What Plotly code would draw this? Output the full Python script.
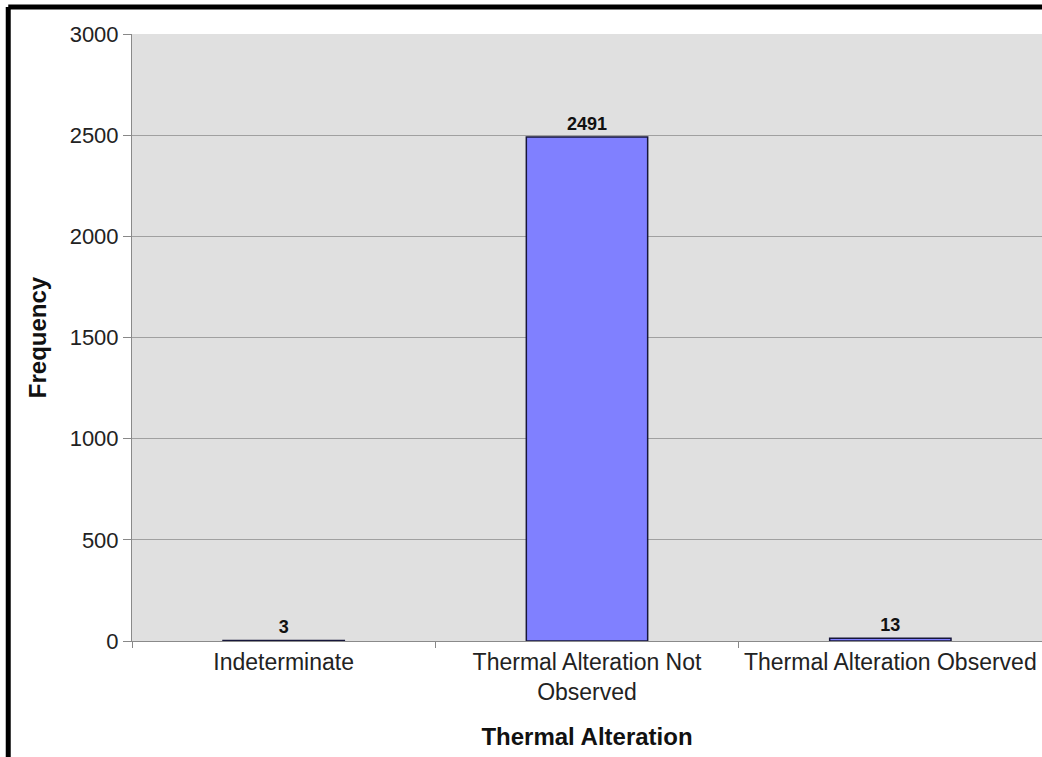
import plotly.graph_objects as go

categories = ["Indeterminate", "Thermal Alteration Not<br>Observed", "Thermal Alteration Observed"]
frequency = [3, 2491, 13]
y_ticks = [0, 500, 1000, 1500, 2000, 2500, 3000]

FONT = "Liberation Sans, Arial, sans-serif"

fig = go.Figure()
fig.add_trace(go.Bar(
    x=categories,
    y=frequency,
    width=0.4,
    marker=dict(color="#8080ff", line=dict(color="#16163a", width=1.5)),
    text=frequency,
    texttemplate="<b>%{text}</b>",
    textposition="outside",
    textfont=dict(family=FONT, size=18, color="#111111"),
    cliponaxis=False,
))

# frame drawn along the top and left edges of the page
fig.add_shape(type="line", xref="paper", yref="paper",
              x0=-0.136, x1=1.2, y0=1.0445, y1=1.0445,
              line=dict(color="black", width=5))
fig.add_shape(type="line", xref="paper", yref="paper",
              x0=-0.136, x1=-0.136, y0=1.0445, y1=-0.3,
              line=dict(color="black", width=5))

fig.update_layout(
    width=1042, height=757,
    margin=dict(l=132, r=0, t=34, b=116),
    paper_bgcolor="white",
    plot_bgcolor="#e0e0e0",
    showlegend=False,
    font=dict(family=FONT, color="#222222"),
    xaxis=dict(
        title=dict(text="<b>Thermal Alteration</b>", font=dict(family=FONT, size=24, color="#111111"),
                   standoff=24),
        tickfont=dict(family=FONT, size=23, color="#222222"),
        tickson="boundaries",
        ticks="outside", ticklen=6, tickcolor="#888888",
        showline=True, linecolor="#8a8a8a", linewidth=1,
        showgrid=False,
    ),
    yaxis=dict(
        title=dict(text="<b>Frequency</b>", font=dict(family=FONT, size=24, color="#111111"),
                   standoff=16),
        range=[0, 3000],
        tickvals=y_ticks,
        tickfont=dict(family=FONT, size=22, color="#222222"),
        ticks="outside", ticklen=8, tickcolor="#888888",
        showline=True, linecolor="#8a8a8a", linewidth=1,
        showgrid=True, gridcolor="#a0a0a0", gridwidth=1,
        zeroline=False,
    ),
    bargap=0.6,
)

fig.write_html("out.html")
